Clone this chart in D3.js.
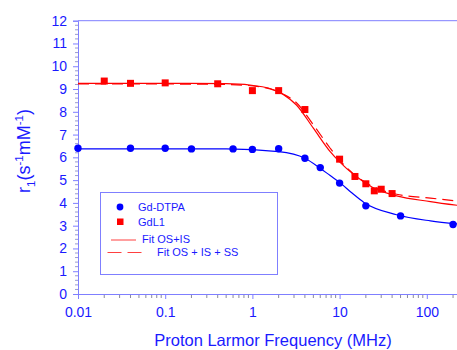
<!DOCTYPE html>
<html>
<head>
<meta charset="utf-8">
<script src="https://cdn.jsdelivr.net/npm/d3@7"></script>
<style>
  body { margin: 0; background: #fff; }
  svg { display: block; font-family: "Liberation Sans", Arial, sans-serif; }
</style>
</head>
<body>
<div id="container"></div>
<script>
// measured points
const dtpaFreq = [0.01, 0.04, 0.1, 0.2, 0.6, 1, 2, 4, 6, 10, 20, 50, 200];
const dtpaR1 = [6.4, 6.4, 6.4, 6.37, 6.37, 6.35, 6.38, 5.96, 5.55, 4.87, 3.87, 3.43, 3.05];
const gdl1Freq = [0.02, 0.04, 0.1, 0.4, 1, 2, 4, 10, 15, 20, 25, 30, 40];
const gdl1R1 = [9.35, 9.25, 9.27, 9.23, 8.93, 8.93, 8.1, 5.92, 5.16, 4.84, 4.53, 4.6, 4.41];

// fit curves
const fitFreq = [0.01, 0.1, 0.5, 1.3, 2.3, 3.2, 5, 7.8, 10, 15, 24, 45, 110, 250];
const fitOsIs = [9.25, 9.25, 9.24, 9.1, 8.74, 8.3, 7.28, 6.25, 5.8, 5.2, 4.68, 4.31, 4.06, 3.87];
const fitOsIsSs = [9.22, 9.22, 9.2, 9.08, 8.76, 8.4, 7.43, 6.4, 5.88, 5.22, 4.72, 4.38, 4.21, 4.06];
const dtpaFitFreq = [0.01, 0.5, 2, 4, 6, 7.8, 10, 14, 19, 45, 110, 250];
const dtpaFit = [6.37, 6.37, 6.25, 5.96, 5.52, 5.2, 4.9, 4.42, 4.02, 3.48, 3.21, 3.06];

const yTicks = [0, 1, 2, 3, 4, 5, 6, 7, 8, 9, 10, 11, 12];
const xTicks = [0.01, 0.1, 1, 10, 100];
const xTickLabels = ["0.01", "0.1", "1", "10", "100"];

const legendItems = ["Gd-DTPA", "GdL1", "Fit OS+IS", "Fit OS + IS + SS"];

const width = 457, height = 350;
const axisColor = "#7f7fff";
const textColor = "#1a1aff";

const svg = d3.select("#container").append("svg")
  .attr("width", width).attr("height", height);

const x = d3.scaleLog().domain([0.01, 250]).range([78, 461.5]);
const y = d3.scaleLinear().domain([0, 12]).range([294, 20.7]);

// frame
svg.append("line")
  .attr("x1", x(0.01)).attr("x2", x(250))
  .attr("y1", y(12)).attr("y2", y(12))
  .attr("stroke", axisColor);
svg.append("line")
  .attr("x1", x(250)).attr("x2", x(250))
  .attr("y1", y(12)).attr("y2", y(0))
  .attr("stroke", axisColor);

// y axis
const yMinor = d3.range(0, 12.001, 0.2).filter((v) => Math.abs(v - Math.round(v)) > 0.01);
const yAxis = svg.append("g").attr("transform", `translate(${x(0.01)},0)`);
yAxis.selectAll(".minor").data(yMinor).enter().append("line")
  .attr("x1", -3).attr("x2", 0)
  .attr("y1", (d) => y(d)).attr("y2", (d) => y(d))
  .attr("stroke", "#9a9ad0");
yAxis.call(d3.axisLeft(y).tickValues(yTicks).tickSize(5).tickPadding(6));
yAxis.select(".domain").attr("stroke", axisColor);
yAxis.selectAll(".tick line").attr("stroke", axisColor);
yAxis.selectAll(".tick text")
  .attr("fill", textColor)
  .style("font-size", "14px")
  .style("font-family", "Liberation Sans, Arial, sans-serif");

// x axis
const xMinor = [];
[0.01, 0.1, 1, 10, 100].forEach((dec) => {
  for (let k = 2; k <= 9; k++) if (dec * k <= 250) xMinor.push(dec * k);
});
const xAxis = svg.append("g").attr("transform", `translate(0,${y(0)})`);
xAxis.selectAll(".minor").data(xMinor).enter().append("line")
  .attr("x1", (d) => x(d)).attr("x2", (d) => x(d))
  .attr("y1", 0).attr("y2", 4)
  .attr("stroke", "#8a8a9a");
xAxis.call(
  d3.axisBottom(x).tickValues(xTicks)
    .tickFormat((d, i) => xTickLabels[i])
    .tickSize(5).tickPadding(8)
);
xAxis.select(".domain").attr("stroke", axisColor);
xAxis.selectAll(".tick line").attr("stroke", axisColor);
xAxis.selectAll(".tick text")
  .attr("fill", textColor)
  .style("font-size", "14px")
  .style("font-family", "Liberation Sans, Arial, sans-serif");

// axis titles
svg.append("text")
  .attr("x", 273).attr("y", 346)
  .attr("text-anchor", "middle")
  .attr("fill", textColor)
  .style("font-size", "16.5px")
  .text("Proton Larmor Frequency (MHz)");

const yTitle = svg.append("text")
  .attr("transform", "translate(30,151) rotate(-90)")
  .attr("text-anchor", "middle")
  .attr("fill", textColor)
  .style("font-size", "18px");
yTitle.append("tspan").text("r");
yTitle.append("tspan").attr("dy", 5).style("font-size", "11.5px").text("1");
yTitle.append("tspan").attr("dy", -5).text("(s");
yTitle.append("tspan").attr("dy", -7).style("font-size", "11.5px").text("-1");
yTitle.append("tspan").attr("dy", 7).text("mM");
yTitle.append("tspan").attr("dy", -7).style("font-size", "11.5px").text("-1");
yTitle.append("tspan").attr("dy", 7).text(")");

// curves
const line = d3.line()
  .x((d) => x(d[0]))
  .y((d) => y(d[1]))
  .curve(d3.curveMonotoneX);

const plot = svg.append("g");
plot.append("path")
  .datum(dtpaFitFreq.map((f, i) => [f, dtpaFit[i]]))
  .attr("d", line).attr("fill", "none")
  .attr("stroke", "#0000ff").attr("stroke-width", 1.2);
plot.append("path")
  .datum(fitFreq.map((f, i) => [f, fitOsIsSs[i]]))
  .attr("d", line).attr("fill", "none")
  .attr("stroke", "#ff0000").attr("stroke-width", 1.2)
  .attr("stroke-dasharray", "11,6");
plot.append("path")
  .datum(fitFreq.map((f, i) => [f, fitOsIs[i]]))
  .attr("d", line).attr("fill", "none")
  .attr("stroke", "#ff0000").attr("stroke-width", 1.2);

// markers
plot.selectAll(".dtpa")
  .data(dtpaFreq.map((f, i) => [f, dtpaR1[i]]))
  .enter().append("circle")
  .attr("cx", (d) => x(d[0])).attr("cy", (d) => y(d[1]))
  .attr("r", 3.7).attr("fill", "#0000ff");
const sq = 7;
plot.selectAll(".gdl1")
  .data(gdl1Freq.map((f, i) => [f, gdl1R1[i]]))
  .enter().append("rect")
  .attr("x", (d) => x(d[0]) - sq / 2).attr("y", (d) => y(d[1]) - sq / 2)
  .attr("width", sq).attr("height", sq)
  .attr("fill", "#ff0000");

// legend
const legend = svg.append("g");
legend.append("rect")
  .attr("x", 100.5).attr("y", 192.5)
  .attr("width", 177).attr("height", 82)
  .attr("fill", "#fff").attr("stroke", axisColor);
legend.append("circle").attr("cx", 120).attr("cy", 207).attr("r", 3.4).attr("fill", "#0000ff");
legend.append("rect").attr("x", 117).attr("y", 218.5).attr("width", 6.5).attr("height", 6.5).attr("fill", "#ff0000");
legend.append("line").attr("x1", 111).attr("x2", 136).attr("y1", 240).attr("y2", 240)
  .attr("stroke", "#ff4040").attr("stroke-width", 1);
legend.append("line").attr("x1", 107.5).attr("x2", 142).attr("y1", 252.5).attr("y2", 252.5)
  .attr("stroke", "#ff4040").attr("stroke-width", 1).attr("stroke-dasharray", "14,6");
const legendPos = [[138, 211], [138, 226], [142, 242.5], [157, 256]];
legend.selectAll(".ltext").data(legendItems).enter().append("text")
  .attr("x", (d, i) => legendPos[i][0])
  .attr("y", (d, i) => legendPos[i][1])
  .attr("fill", textColor)
  .style("font-size", "11px")
  .text((d) => d);
</script>
</body>
</html>
